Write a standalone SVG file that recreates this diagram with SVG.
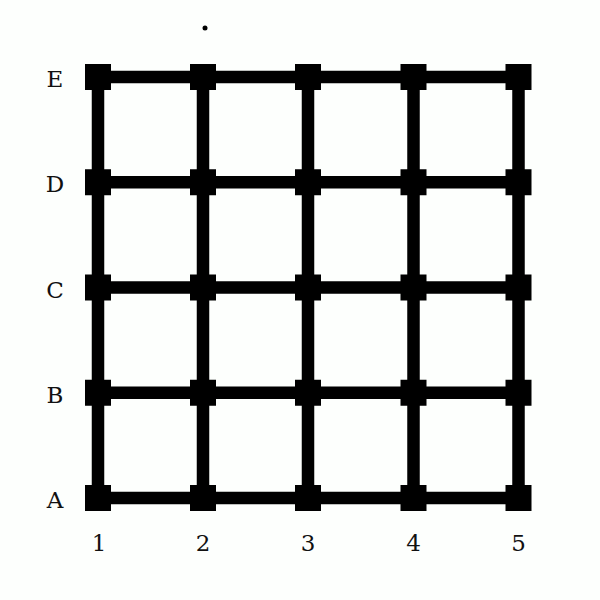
<svg xmlns="http://www.w3.org/2000/svg" width="600" height="600" viewBox="0 0 600 600">
<style>
.ln{stroke:#000;stroke-width:12.5;fill:none}
.nd{fill:#000}
.lb{font-family:"DejaVu Serif","Liberation Serif",serif;font-size:23px;fill:#111;text-anchor:middle}
</style>
<rect width="600" height="600" fill="#fdfffd"/>
<g id="connectors">
<path class="ln" d="M98,77V498M203,77V498M308,77V498M413.5,77V498M518.5,77V498"/>
<path class="ln" d="M98,77H518.5M98,182.25H518.5M98,287.5H518.5M98,392.75H518.5M98,498H518.5"/>
</g>
<g id="nodes">
<g id="E1"><rect class="nd" x="85" y="64" width="26" height="26"/></g>
<g id="E2"><rect class="nd" x="190" y="64" width="26" height="26"/></g>
<g id="E3"><rect class="nd" x="295" y="64" width="26" height="26"/></g>
<g id="E4"><rect class="nd" x="400.5" y="64" width="26" height="26"/></g>
<g id="E5"><rect class="nd" x="505.5" y="64" width="26" height="26"/></g>
<g id="D1"><rect class="nd" x="85" y="169.25" width="26" height="26"/></g>
<g id="D2"><rect class="nd" x="190" y="169.25" width="26" height="26"/></g>
<g id="D3"><rect class="nd" x="295" y="169.25" width="26" height="26"/></g>
<g id="D4"><rect class="nd" x="400.5" y="169.25" width="26" height="26"/></g>
<g id="D5"><rect class="nd" x="505.5" y="169.25" width="26" height="26"/></g>
<g id="C1"><rect class="nd" x="85" y="274.5" width="26" height="26"/></g>
<g id="C2"><rect class="nd" x="190" y="274.5" width="26" height="26"/></g>
<g id="C3"><rect class="nd" x="295" y="274.5" width="26" height="26"/></g>
<g id="C4"><rect class="nd" x="400.5" y="274.5" width="26" height="26"/></g>
<g id="C5"><rect class="nd" x="505.5" y="274.5" width="26" height="26"/></g>
<g id="B1"><rect class="nd" x="85" y="379.75" width="26" height="26"/></g>
<g id="B2"><rect class="nd" x="190" y="379.75" width="26" height="26"/></g>
<g id="B3"><rect class="nd" x="295" y="379.75" width="26" height="26"/></g>
<g id="B4"><rect class="nd" x="400.5" y="379.75" width="26" height="26"/></g>
<g id="B5"><rect class="nd" x="505.5" y="379.75" width="26" height="26"/></g>
<g id="A1"><rect class="nd" x="85" y="485" width="26" height="26"/></g>
<g id="A2"><rect class="nd" x="190" y="485" width="26" height="26"/></g>
<g id="A3"><rect class="nd" x="295" y="485" width="26" height="26"/></g>
<g id="A4"><rect class="nd" x="400.5" y="485" width="26" height="26"/></g>
<g id="A5"><rect class="nd" x="505.5" y="485" width="26" height="26"/></g>
</g>
<circle cx="205" cy="28" r="2.5" fill="#000"/>
<g id="labels">
<text class="lb" x="55" y="87">E</text>
<text class="lb" x="55" y="192.25">D</text>
<text class="lb" x="55" y="297.5">C</text>
<text class="lb" x="55" y="402.75">B</text>
<text class="lb" x="55" y="508">A</text>
<text class="lb" x="99" y="551">1</text>
<text class="lb" x="203" y="551">2</text>
<text class="lb" x="308" y="551">3</text>
<text class="lb" x="413.5" y="551">4</text>
<text class="lb" x="518.5" y="551">5</text>
</g>
</svg>
